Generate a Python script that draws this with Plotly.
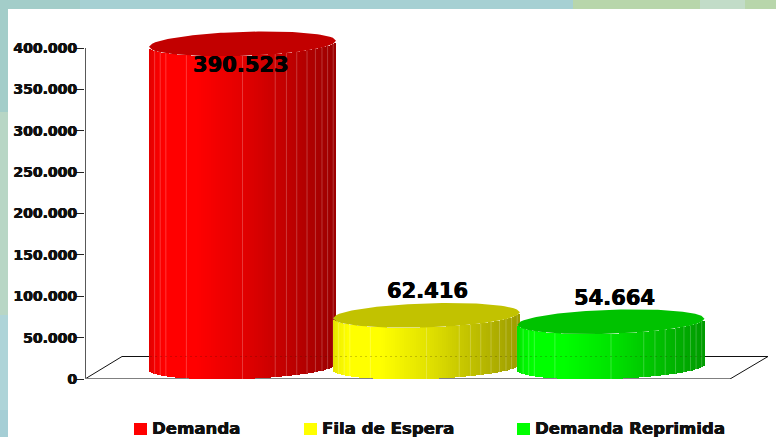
import numpy as np
import plotly.graph_objects as go

categories = ["Demanda", "Fila de Espera", "Demanda Reprimida"]
values = [390523, 62416, 54664]
value_labels = ["390.523", "62.416", "54.664"]
tick_values = [0, 50000, 100000, 150000, 200000, 250000, 300000, 350000, 400000]
tick_labels = ["0", "50.000", "100.000", "150.000", "200.000", "250.000", "300.000", "350.000", "400.000"]
axis_max = 400000
base_rgb = [(255, 0, 0), (255, 255, 0), (0, 255, 0)]
centers_px = [242.5, 426.5, 611]
radius_px = 93.5
label_x_px = [241, 427.5, 614.5]
label_shift = [-9, 36, 36]
legend_swatch_px = [134, 304, 517]
legend_text_px = [152, 322, 535]

W, H = 776, 437
L, R, T_AXIS, T, B = 85, 776, 48, 20, 379
UNIT = 184.5
VPP = axis_max / (B - T_AXIS)
X0 = (L - centers_px[0]) / UNIT
X1 = (R - centers_px[0]) / UNIT
px2x = lambda p: (np.asarray(p, dtype=float) - centers_px[0]) / UNIT
px2v = lambda p: (B - np.asarray(p, dtype=float)) * VPP
fx = lambda p: (p - L) / (R - L)
fy = lambda p: (B - p) / (B - T)

DEPTH = 12 * VPP
TILT = 3 * VPP
shade_u = [-1, -0.94, -0.83, -0.5, 0, 0.5, 0.85, 1]
shade_k = [0.88, 0.95, 1, 1, 0.89, 0.75, 0.65, 0.61]
seams_u = [-0.94, -0.88, -0.82, -0.6, 0, 0.35, 0.47, 0.58, 0.69, 0.78, 0.85, 0.91, 0.97]
TOP_K = 0.76
BOLDER = "0.35px 0 0 currentColor, -0.35px 0 0 currentColor"


def front(u, v):
    return v + DEPTH * (1 - np.sqrt(1 - u**2)) + TILT * u


def back(u, v):
    return v + DEPTH * (1 + np.sqrt(1 - u**2)) + TILT * u


def rgb(c, k):
    return "rgb(%d,%d,%d)" % tuple(int(round(a * k)) for a in c)


fig = go.Figure()

# y axis line
fig.add_trace(go.Scatter(
    x=px2x([L, L]), y=[0, axis_max], mode="lines",
    line=dict(color="#222222", width=1.5), cliponaxis=False, hoverinfo="skip", showlegend=False))
# floor
fig.add_trace(go.Scatter(
    x=px2x([L, 122, 768, 730]), y=px2v([B, 356.5, 356.5, B]), mode="lines",
    line=dict(color="#111111", width=1), cliponaxis=False, hoverinfo="skip", showlegend=False))
fig.add_trace(go.Scatter(
    x=px2x([L, 730]), y=[0, 0], mode="lines",
    line=dict(color="#808080", width=2), cliponaxis=False, hoverinfo="skip", showlegend=False))

for i, (name, v, col) in enumerate(zip(categories, values, base_rgb)):
    ax = str(i + 2)
    c = (centers_px[i] - centers_px[0]) / UNIT
    r = radius_px / UNIT
    n = 94
    edges = np.linspace(-1, 1, n + 1)
    mids = (edges[:-1] + edges[1:]) / 2
    fig.add_trace(go.Bar(
        x=c + mids * r, y=[v] * n, base=front(mids, 0), width=2 * r / n * 1.15,
        marker=dict(color=[rgb(col, k) for k in np.interp(mids, shade_u, shade_k)], line=dict(width=0)),
        name=name, cliponaxis=False, showlegend=False, hoverinfo="skip", xaxis="x" + ax, yaxis="y" + ax))
    sx, sy = [], []
    for s in seams_u:
        sx += [c + s * r, c + s * r, None]
        sy += [front(np.array(s), 0), front(np.array(s), v), None]
    fig.add_trace(go.Scatter(
        x=sx, y=sy, mode="lines", line=dict(color="rgba(255,255,255,0.22)", width=1),
        cliponaxis=False, hoverinfo="skip", showlegend=False, xaxis="x" + ax, yaxis="y" + ax))
    u = np.linspace(-1, 1, 61)
    fig.add_trace(go.Scatter(
        x=np.r_[c + u * r, c + u[::-1] * r], y=np.r_[back(u, v), front(u[::-1], v)],
        mode="lines", fill="toself", fillcolor=rgb(col, TOP_K), line=dict(width=0),
        cliponaxis=False, hoverinfo="skip", showlegend=False, xaxis="x" + ax, yaxis="y" + ax))

# back floor edge seen faintly through the cylinders
fig.add_trace(go.Scatter(
    x=px2x([150, 705]), y=px2v([356.5, 356.5]), mode="lines",
    line=dict(color="rgba(40,20,0,0.22)", width=1, dash="2px,3px"),
    cliponaxis=False, hoverinfo="skip", showlegend=False, xaxis="x5", yaxis="y5"))

bg = [
    (0, 0, 776, 9, "#a6d0d3"), (0, 0, 80, 9, "#a3cdc9"), (0, 0, 8, 112, "#a3cdc9"),
    (0, 112, 8, 315, "#b8d6c5"), (0, 315, 8, 410, "#aed4d8"), (0, 410, 8, 437, "#a5ced5"),
    (573, 0, 700, 9, "#b8d6ab"), (700, 0, 745, 9, "#c2dcc8"), (745, 0, 776, 9, "#b8d6ab"),
]
shapes = [dict(type="rect", xref="paper", yref="paper", x0=fx(a), x1=fx(c), y0=fy(b), y1=fy(d),
               fillcolor=f, line=dict(width=0), layer="below") for a, b, c, d, f in bg]
annotations = []
for i, name in enumerate(categories):
    s = legend_swatch_px[i]
    shapes.append(dict(type="rect", xref="paper", yref="paper", x0=fx(s), x1=fx(s + 13), y0=fy(423), y1=fy(435),
                       fillcolor=rgb(base_rgb[i], 1), line=dict(width=0)))
    annotations.append(dict(xref="paper", yref="paper", x=fx(legend_text_px[i]), y=fy(428.5), text=name,
                            showarrow=False, xanchor="left", yanchor="middle", xshift=-2,
                            font=dict(family="DejaVu Sans", size=16.6, color="#111111", weight="bold", shadow=BOLDER)))
    annotations.append(dict(xref="x", yref="y", x=float(px2x(label_x_px[i])), y=values[i], yshift=label_shift[i],
                            text=value_labels[i], showarrow=False, xanchor="center", yanchor="middle",
                            font=dict(family="DejaVu Sans", size=21, color="#000000", weight="bold", shadow=BOLDER)))

layout_axes = {}
for k in range(2, 6):
    layout_axes["xaxis%d" % k] = dict(overlaying="x", matches="x", visible=False)
    layout_axes["yaxis%d" % k] = dict(overlaying="y", matches="y", visible=False)

fig.update_layout(
    width=W, height=H, autosize=False, margin=dict(l=L, r=W - R, t=T, b=H - B, pad=0),
    paper_bgcolor="white", plot_bgcolor="rgba(0,0,0,0)", barmode="overlay", bargap=0, showlegend=False,
    xaxis=dict(range=[X0, X1], visible=False),
    yaxis=dict(range=[0, (B - T) * VPP], tickvals=tick_values, ticktext=tick_labels, showgrid=False, zeroline=False,
               showline=False, ticks="outside", ticklen=8, tickwidth=1, ticklabelstandoff=-4,
               tickcolor="#222222",
               tickfont=dict(family="DejaVu Sans", size=14, color="#111111", weight="bold", shadow=BOLDER)),
    shapes=shapes, annotations=annotations, **layout_axes)

fig.write_html("out.html", config=dict(displayModeBar=False),
               post_script="document.body.style.margin='0';document.body.style.overflow='hidden';")
